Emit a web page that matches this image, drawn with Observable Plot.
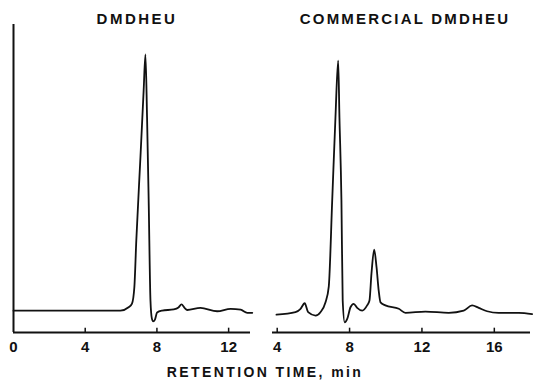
<!DOCTYPE html>
<html>
<head>
<meta charset="utf-8">
<script src="https://cdn.jsdelivr.net/npm/d3@7"></script>
<script src="https://cdn.jsdelivr.net/npm/@observablehq/plot@0.6"></script>
<style>
  html, body { margin: 0; padding: 0; background: #fff; }
  #wrap { position: relative; width: 535px; height: 381px; overflow: hidden; font-family: "Liberation Sans", Arial, sans-serif; color: #111; }
  #wrap svg { position: absolute; top: 0; }
  .t { position: absolute; text-align: center; font-weight: bold; font-size: 15px; line-height: 15px; white-space: nowrap; }
</style>
</head>
<body>
<div id="wrap">
  <div class="t" id="t1" style="left:37px; width:200px; top:11px; letter-spacing:2.5px;">DMDHEU</div>
  <div class="t" id="t2" style="left:290px; width:230px; top:11px; letter-spacing:2.2px;">COMMERCIAL DMDHEU</div>
  <div class="t" id="xl" style="left:115px; width:300px; top:365px; font-size:14px; line-height:14px; letter-spacing:2.4px;">RETENTION TIME, min</div>
</div>
<script>
// Left panel: pure DMDHEU (retention time, min ; detector response, arbitrary units)
const leftTime = [0, 5.96, 6.42, 6.61, 6.74, 6.85, 7.08, 7.26, 7.36, 7.45, 7.54, 7.64, 7.72, 7.79, 7.89, 8.01, 8.29, 8.94, 9.2, 9.37, 9.54, 9.69, 10.43, 11.36, 12.11, 12.67, 13.04, 13.32];
const leftSignal = [7.1, 7.1, 8.2, 9.4, 14.6, 29.9, 56.8, 78.6, 90.3, 69.8, 42.9, 10.4, 4.5, 3.6, 4.2, 6.5, 7.1, 7.5, 8.1, 9.1, 8.0, 7.3, 8.0, 6.9, 7.7, 7.4, 6.4, 6.4];
const leftTicks = [0, 4, 8, 12];

// Right panel: commercial DMDHEU
const rightTime = [3.96, 5.01, 5.29, 5.52, 5.71, 6.12, 6.39, 6.67, 6.85, 7.04, 7.22, 7.37, 7.44, 7.55, 7.62, 7.73, 7.87, 8.05, 8.23, 8.42, 8.70, 8.97, 9.10, 9.21, 9.36, 9.49, 9.61, 9.71, 9.98, 10.72, 11.09, 12.19, 13.48, 14.31, 14.77, 15.14, 15.60, 16.24, 17.35, 18.09];
const rightSignal = [5.8, 6.6, 7.7, 9.5, 6.6, 5.5, 6.6, 9.8, 14.9, 42.9, 69.9, 88.3, 69.9, 42.9, 10.4, 3.3, 4.4, 8.2, 9.3, 8.0, 7.1, 8.8, 10.4, 19.1, 26.9, 21.2, 13.6, 9.8, 8.8, 7.7, 6.4, 6.8, 6.4, 7.1, 8.8, 8.0, 6.9, 6.4, 6.4, 6.0];
const rightTicks = [4, 8, 12, 16];

const leftData = leftTime.map((t, i) => ({t, v: leftSignal[i]}));
const rightData = rightTime.map((t, i) => ({t, v: rightSignal[i]}));

const ink = "#111";
const common = {
  height: 360,
  marginTop: 24,
  marginBottom: 28,
  y: {domain: [0, 100], axis: null},
  style: {fontFamily: "'Liberation Sans', Arial, sans-serif", fontSize: "15px", color: ink, background: "transparent", overflow: "visible"}
};

const left = Plot.plot({
  ...common,
  width: 260,
  marginLeft: 13,
  marginRight: 10,
  x: {domain: [0, 13.22], axis: null},
  marks: [
    Plot.ruleY([0], {stroke: ink, strokeWidth: 2}),
    Plot.ruleX([0], {y1: 0, y2: 100, stroke: ink, strokeWidth: 2}),
    Plot.ruleX(leftTicks.slice(1), {x: d => d, y1: 0, y2: 1.4, stroke: ink, strokeWidth: 1.5}),
    Plot.axisX({ticks: leftTicks, tickSize: 0, tickPadding: 9, tickFormat: d => String(d), fontSize: 15, fontWeight: "bold", label: null}),
    Plot.line(leftData, {x: "t", y: "v", curve: "monotone-x", stroke: ink, strokeWidth: 1.8})
  ]
});
left.style.left = "0px";

const right = Plot.plot({
  ...common,
  width: 273,
  marginLeft: 10,
  marginRight: 5,
  x: {domain: [3.74, 18], axis: null},
  marks: [
    Plot.ruleY([0], {stroke: ink, strokeWidth: 2}),
    Plot.ruleX(rightTicks, {x: d => d, y1: 0, y2: 1.4, stroke: ink, strokeWidth: 1.5}),
    Plot.axisX({ticks: rightTicks, tickSize: 0, tickPadding: 9, tickFormat: d => String(d), fontSize: 15, fontWeight: "bold", label: null}),
    Plot.line(rightData, {x: "t", y: "v", curve: "monotone-x", stroke: ink, strokeWidth: 1.8})
  ]
});
right.style.left = "262px";

const wrap = document.getElementById("wrap");
wrap.prepend(right);
wrap.prepend(left);
</script>
</body>
</html>
